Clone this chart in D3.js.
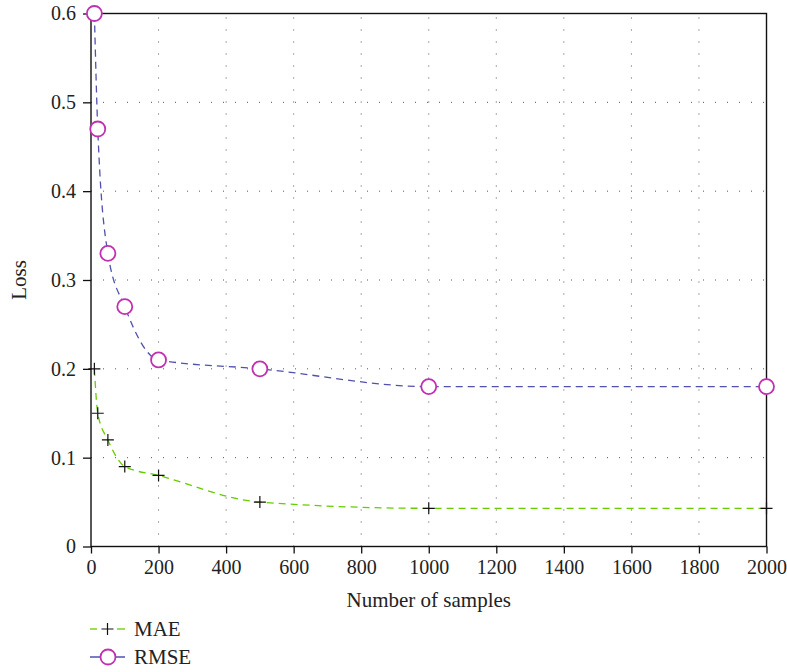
<!DOCTYPE html>
<html><head><meta charset="utf-8">
<script src="https://cdn.jsdelivr.net/npm/d3@7"></script>
<style>body{margin:0;background:#fff}svg{display:block}text{font-family:"Liberation Serif","DejaVu Serif",serif;fill:#222}</style>
</head><body><svg id="c" width="787" height="672"></svg>
<script>
const samples = [10, 20, 50, 100, 200, 500, 1000, 2000];
const mae = [0.2, 0.15, 0.12, 0.09, 0.08, 0.05, 0.043, 0.043];
const rmse = [0.6, 0.47, 0.33, 0.27, 0.21, 0.2, 0.18, 0.18];
const xTicks = [0,200,400,600,800,1000,1200,1400,1600,1800,2000];
const yTicks = [0,0.1,0.2,0.3,0.4,0.5,0.6];

const FONT = '"Liberation Serif","DejaVu Serif",serif';
const svg = d3.select("#c");
const L=91,R=766.5,T=13.5,B=546.5;
const x = d3.scaleLinear().domain([0,2000]).range([L,R]);
const y = d3.scaleLinear().domain([0,0.6]).range([B,T]);

// grid
const g = svg.append("g");
g.selectAll(".gx").data(xTicks.slice(1,-1)).join("line")
 .attr("x1",d=>x(d)).attr("x2",d=>x(d)).attr("y1",B).attr("y2",T)
 .attr("stroke","#555").attr("stroke-width",1).attr("stroke-dasharray","1,11");
g.selectAll(".gy").data(yTicks.slice(1,-1)).join("line")
 .attr("y1",d=>y(d)).attr("y2",d=>y(d)).attr("x1",L).attr("x2",R)
 .attr("stroke","#555").attr("stroke-width",1).attr("stroke-dasharray","1,11");

// axes
const xa = svg.append("g").attr("transform",`translate(0,${B})`)
 .call(d3.axisBottom(x).tickValues(xTicks).tickSize(7).tickSizeOuter(0).tickPadding(6).tickFormat(d3.format("d")));
const ya = svg.append("g").attr("transform",`translate(${L},0)`)
 .call(d3.axisLeft(y).tickValues(yTicks).tickSize(8).tickSizeOuter(0).tickPadding(7).tickFormat(d=>d===0?"0":d3.format(".1f")(d)));
[xa,ya].forEach(a=>{a.attr("font-family",FONT).attr("font-size",20);
  a.selectAll("text").attr("font-family",FONT).style("font-size","20px").attr("fill","#222");
  a.selectAll("line,path").attr("stroke","#111").attr("stroke-width",1.3);});
xa.select(".domain").remove(); ya.select(".domain").remove();
// frame
svg.append("rect").attr("x",L).attr("y",T).attr("width",R-L).attr("height",B-T)
 .attr("fill","none").attr("stroke","#111").attr("stroke-width",1.4);

// lines
const line = d3.line().x(d=>x(d[0])).y(d=>y(d[1])).curve(d3.curveMonotoneX);
const maeD = samples.map((s,i)=>[s,mae[i]]);
const rmseD = samples.map((s,i)=>[s,rmse[i]]);
const maeC="#66cc00", rmseC="#5050b0", circC="#c030b0";
svg.append("path").attr("d",line(maeD)).attr("fill","none").attr("stroke",maeC).attr("stroke-width",1.3).attr("stroke-dasharray","7,5");
svg.append("path").attr("d",line(rmseD)).attr("fill","none").attr("stroke",rmseC).attr("stroke-width",1.3).attr("stroke-dasharray","7,5");

function plus(sel,cx,cy){sel.append("path").attr("d",`M${cx-6},${cy}H${cx+6}M${cx},${cy-6}V${cy+6}`).attr("stroke","#111").attr("stroke-width",1.2);}
maeD.forEach(d=>plus(svg,x(d[0]),y(d[1])));
svg.selectAll(".rc").data(rmseD).join("circle").attr("cx",d=>x(d[0])).attr("cy",d=>y(d[1])).attr("r",7.5)
 .attr("fill","#fff").attr("stroke",circC).attr("stroke-width",1.8);

// labels
svg.append("text").attr("x",(L+R)/2).attr("y",607).attr("text-anchor","middle").style("font-size","21px").text("Number of samples");
svg.append("text").attr("transform","translate(26,280) rotate(-90)").attr("text-anchor","middle").style("font-size","21px").text("Loss");

// legend
const lg=svg.append("g");
lg.append("line").attr("x1",90).attr("x2",97).attr("y1",629).attr("y2",629).attr("stroke",maeC).attr("stroke-width",1.3);
lg.append("line").attr("x1",117).attr("x2",125).attr("y1",629).attr("y2",629).attr("stroke",maeC).attr("stroke-width",1.3);
plus(lg,107.5,629);
lg.append("text").attr("x",134).attr("y",636).style("font-size","21px").text("MAE");
lg.append("line").attr("x1",90).attr("x2",125).attr("y1",657).attr("y2",657).attr("stroke",rmseC).attr("stroke-width",1.3);
lg.append("circle").attr("cx",108).attr("cy",657).attr("r",7.5).attr("fill","#fff").attr("stroke",circC).attr("stroke-width",1.8);
lg.append("text").attr("x",134).attr("y",664).style("font-size","21px").text("RMSE");
</script></body></html>
